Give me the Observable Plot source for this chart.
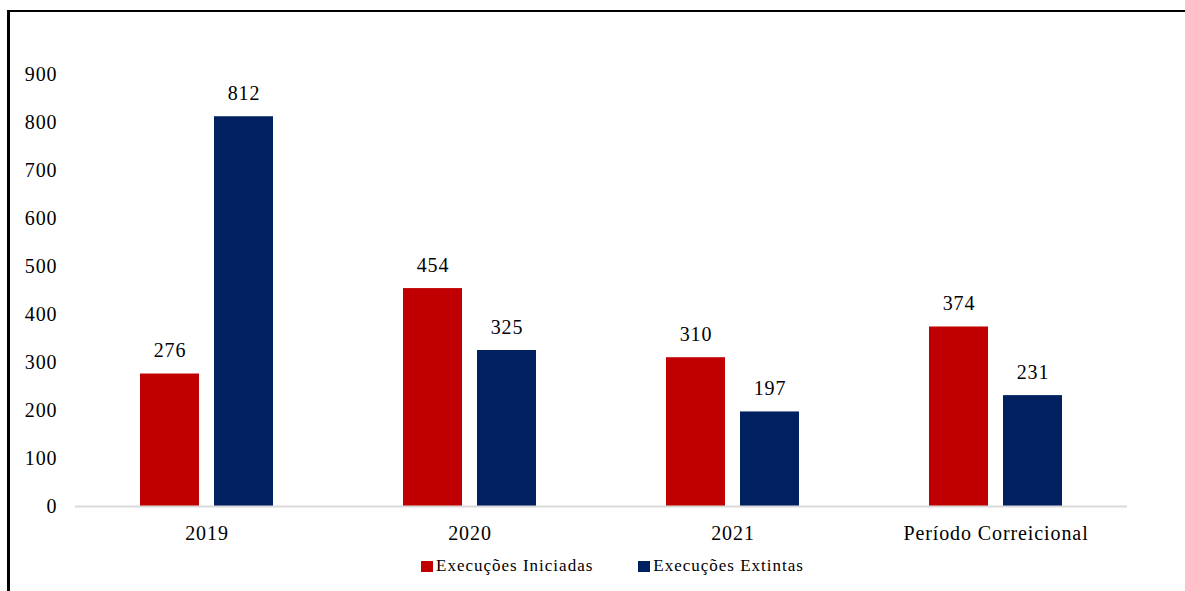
<!DOCTYPE html>
<html>
<head>
<meta charset="utf-8">
<script src="https://cdn.jsdelivr.net/npm/d3@7"></script>
<script src="https://cdn.jsdelivr.net/npm/@observablehq/plot@0.6"></script>
<style>
  html, body { margin: 0; padding: 0; background: #fff; }
  #wrap { position: relative; width: 1185px; height: 591px; overflow: hidden; font-family: "Liberation Serif", "Times New Roman", serif; }
  #frame { position: absolute; left: 7px; top: 10px; right: -5px; bottom: -5px; border-left: 3px solid #000; border-top: 2px solid #000; pointer-events: none; }
  #chart { position: absolute; left: 0; top: 0; }
  #legend { position: absolute; top: 556px; left: 421px; display: flex; align-items: center; font-size: 17px; letter-spacing: 1px; color: #000; white-space: nowrap; }
  .item { display: flex; align-items: center; }
  .sw { width: 12px; height: 11px; margin-right: 3px; }
</style>
</head>
<body>
<div id="wrap">
  <div id="chart"></div>
  <div id="frame"></div>
  <div id="legend"></div>
</div>
<script>
const categories = ["2019", "2020", "2021", "Período Correicional"];
const seriesNames = ["Execuções Iniciadas", "Execuções Extintas"];
const iniciadas = [276, 454, 310, 374];
const extintas = [812, 325, 197, 231];
const seriesColors = ["#C00000", "#002060"];
const yTicks = [0, 100, 200, 300, 400, 500, 600, 700, 800, 900];

const data = [];
categories.forEach((c, i) => {
  data.push({cat: c, series: seriesNames[0], value: iniciadas[i]});
  data.push({cat: c, series: seriesNames[1], value: extintas[i]});
});

const chart = Plot.plot({
  width: 1185,
  height: 545,
  marginLeft: 73,
  marginRight: 57,
  marginTop: 74,
  marginBottom: 39,
  style: {fontFamily: '"Liberation Serif", "Times New Roman", serif', fontSize: "20px", letterSpacing: "0.9px", background: "transparent", color: "#000", overflow: "visible"},
  fx: {domain: categories, padding: 0, label: null, axis: null},
  x: {domain: seriesNames, paddingInner: 0.2, paddingOuter: 0.87, axis: null},
  y: {domain: [0, 900], axis: null},
  color: {domain: seriesNames, range: seriesColors},
  marks: [
    Plot.axisY(yTicks, {tickSize: 0, tickPadding: 18, label: null, fill: "#000"}),
    Plot.axisFx({tickSize: 0, tickPadding: 19, label: null, fill: "#000", anchor: "bottom"}),
    Plot.barY(data, {fx: "cat", x: "series", y: "value", fill: "series"}),
    Plot.ruleY([0], {stroke: "#d9d9d9", strokeWidth: 2}),
    Plot.text(data, {fx: "cat", x: "series", y: "value", text: d => String(d.value), dy: -23, fill: "#000", fontSize: 20})
  ]
});
document.getElementById("chart").appendChild(chart);

const legend = document.getElementById("legend");
seriesNames.forEach((name, i) => {
  const item = document.createElement("div");
  item.className = "item";
  if (i > 0) item.style.marginLeft = "45px";
  const sw = document.createElement("span");
  sw.className = "sw";
  sw.style.background = seriesColors[i];
  const t = document.createElement("span");
  t.textContent = name;
  item.appendChild(sw);
  item.appendChild(t);
  legend.appendChild(item);
});
</script>
</body>
</html>
